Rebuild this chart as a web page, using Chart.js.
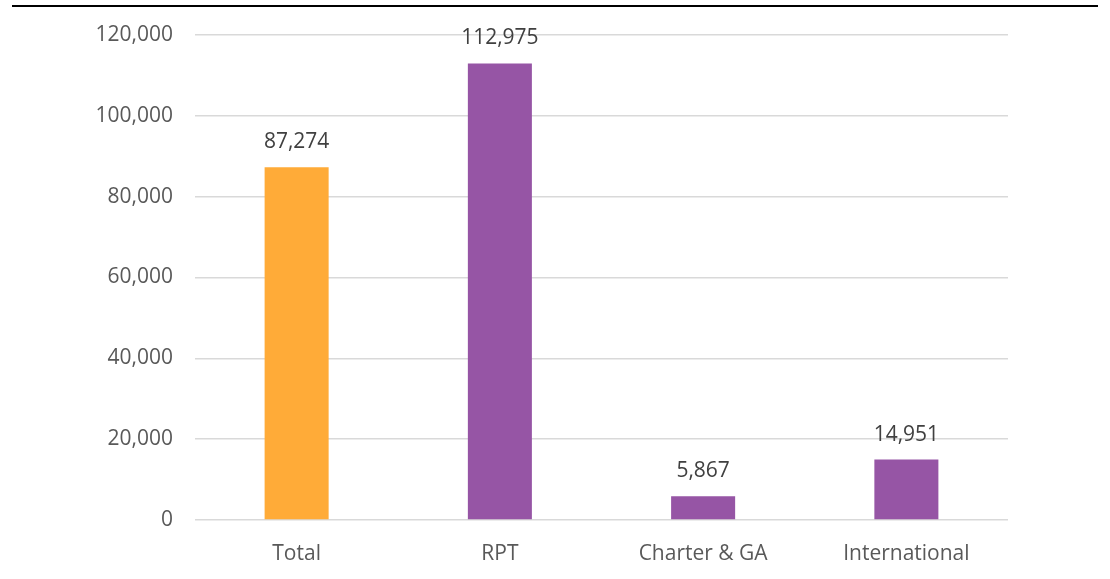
<!DOCTYPE html>
<html lang="en">
<head>
    <meta charset="UTF-8">
    <title>Passengers by segment</title>
    <script src="https://cdn.jsdelivr.net/npm/chart.js"></script>
    <style>
        html, body {
            margin: 0;
            padding: 0;
            background-color: white;
        }
        .wrap {
            position: relative;
            width: 1110px;
            height: 579px;
        }
        .topline {
            position: absolute;
            left: 12px;
            top: 5px;
            width: 1086px;
            height: 2px;
            background-color: #000;
        }
        canvas {
            position: absolute;
            left: 0;
            top: 0;
        }
    </style>
</head>
<body>
    <div class="wrap">
        <div class="topline"></div>
        <canvas id="segmentChart" width="1110" height="579"></canvas>
    </div>

    <script>
        const categories = ['Total', 'RPT', 'Charter & GA', 'International'];
        const values = [87274, 112975, 5867, 14951];
        const barColors = ['#FFAB38', '#9655A5', '#9655A5', '#9655A5'];
        const yTicks = [0, 20000, 40000, 60000, 80000, 100000, 120000];

        const fmt = v => v.toLocaleString('en-US');
        const FONT = "'Open Sans', sans-serif";

        // 棒の上に値を表示
        const valueLabels = {
            id: 'valueLabels',
            afterDatasetsDraw(chart) {
                const ctx = chart.ctx;
                const meta = chart.getDatasetMeta(0);
                ctx.save();
                ctx.font = `21px ${FONT}`;
                ctx.fillStyle = '#404040';
                ctx.textAlign = 'center';
                ctx.textBaseline = 'alphabetic';
                meta.data.forEach((bar, i) => {
                    ctx.fillText(fmt(values[i]), bar.x, bar.y - 19);
                });
                ctx.restore();
            }
        };

        const ctx = document.getElementById('segmentChart').getContext('2d');
        new Chart(ctx, {
            type: 'bar',
            data: {
                labels: categories,
                datasets: [{
                    data: values,
                    backgroundColor: barColors,
                    categoryPercentage: 1,
                    barPercentage: 0.315
                }]
            },
            options: {
                responsive: false,
                animation: false,
                layout: {
                    padding: { left: 0, right: 102, top: 35, bottom: 0 }
                },
                plugins: {
                    legend: { display: false },
                    tooltip: { enabled: false }
                },
                scales: {
                    x: {
                        grid: { display: false },
                        border: { display: false },
                        ticks: {
                            color: '#595959',
                            font: { family: FONT, size: 21 },
                            padding: 13
                        },
                        afterFit: s => { s.height = 59; }
                    },
                    y: {
                        min: 0,
                        max: 120000,
                        afterBuildTicks: s => { s.ticks = yTicks.map(v => ({ value: v })); },
                        grid: {
                            color: '#D9D9D9',
                            lineWidth: 1.5,
                            drawTicks: false
                        },
                        border: { display: false },
                        ticks: {
                            color: '#595959',
                            font: { family: FONT, size: 21 },
                            padding: 22,
                            callback: v => fmt(v)
                        },
                        afterFit: s => { s.width = 195; }
                    }
                }
            },
            plugins: [valueLabels]
        });
    </script>
</body>
</html>
